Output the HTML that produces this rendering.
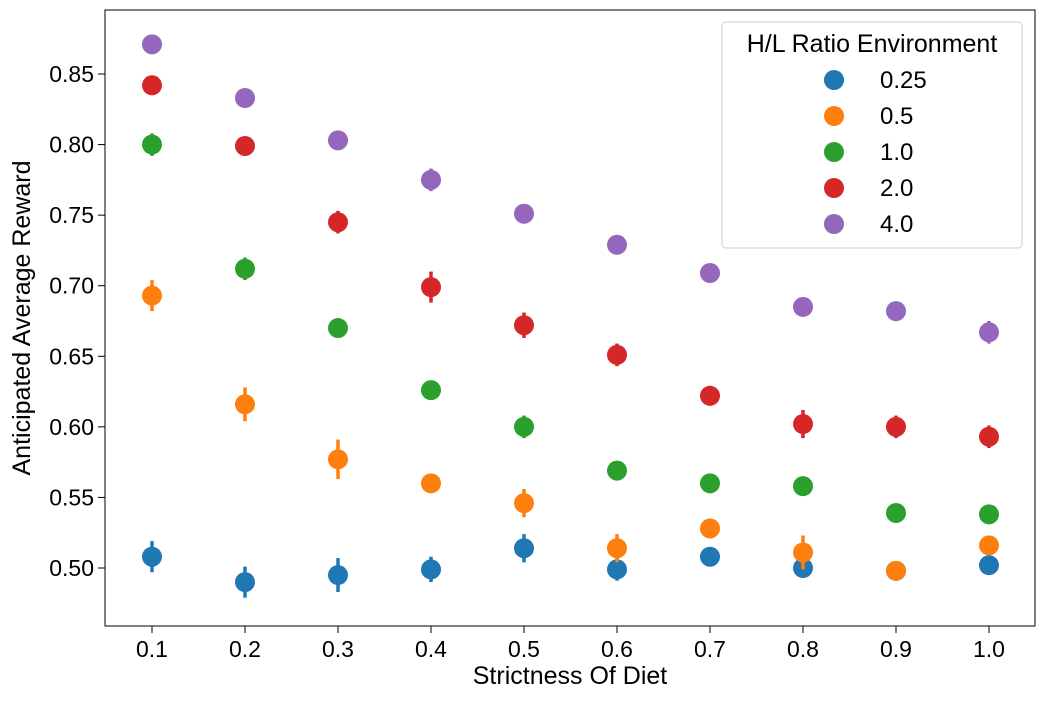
<!DOCTYPE html>
<html><head><meta charset="utf-8"><style>
body{margin:0;background:#fff}
text{font-family:"Liberation Sans",sans-serif;fill:#000}
</style></head><body>
<svg id="chart" width="1045" height="699" xmlns="http://www.w3.org/2000/svg">
<rect x="105" y="10" width="930" height="616" fill="#fff" stroke="#000" stroke-width="1"/>
<g id="marks"></g><g id="axes"></g>
<text x="570" y="684" text-anchor="middle" font-size="25">Strictness Of Diet</text>
<text transform="translate(30,318) rotate(-90)" text-anchor="middle" font-size="25">Anticipated Average Reward</text>
<g id="legend"></g>
</svg>
<script>
const categories=[0.1,0.2,0.3,0.4,0.5,0.6,0.7,0.8,0.9,1.0];
const seriesNames=["0.25","0.5","1.0","2.0","4.0"];
const colors=["#1f77b4","#ff7f0e","#2ca02c","#d62728","#9467bd"];
const s025=[0.508,0.490,0.495,0.499,0.514,0.499,0.508,0.500,0.498,0.502];
const e025=[0.011,0.011,0.012,0.009,0.010,0.008,0.005,0.003,0.002,0.003];
const s05=[0.693,0.616,0.577,0.560,0.546,0.514,0.528,0.511,0.498,0.516];
const e05=[0.011,0.012,0.014,0.004,0.010,0.010,0.007,0.012,0.003,0.003];
const s10=[0.800,0.712,0.670,0.626,0.600,0.569,0.560,0.558,0.539,0.538];
const e10=[0.008,0.008,0.004,0.005,0.008,0.006,0.005,0.004,0.003,0.004];
const s20=[0.842,0.799,0.745,0.699,0.672,0.651,0.622,0.602,0.600,0.593];
const e20=[0.003,0.004,0.008,0.011,0.009,0.008,0.007,0.010,0.008,0.008];
const s40=[0.871,0.833,0.803,0.775,0.751,0.729,0.709,0.685,0.682,0.667];
const e40=[0.002,0.005,0.003,0.008,0.006,0.005,0.006,0.003,0.004,0.008];
const yTicks=["0.50","0.55","0.60","0.65","0.70","0.75","0.80","0.85"];
const xTicks=["0.1","0.2","0.3","0.4","0.5","0.6","0.7","0.8","0.9","1.0"];
const series=[s025,s05,s10,s20,s40], errs=[e025,e05,e10,e20,e40];
const NS="http://www.w3.org/2000/svg";
function xs(v){return 152+(v-0.1)/0.9*837;}
function ys(v){return 568-(v-0.5)/0.35*494;}
function mk(t,a,p){const e=document.createElementNS(NS,t);for(const k in a)e.setAttribute(k,a[k]);(p||document.getElementById('marks')).appendChild(e);return e;}
const ax=document.getElementById('axes');
yTicks.forEach(t=>{const y=ys(+t);
 const l=mk('line',{x1:98,x2:105,y1:y,y2:y,stroke:'#000'},ax);
 
 
 const tx=mk('text',{x:94,y:y+8,'text-anchor':'end','font-size':23},ax);tx.textContent=t;
 
 });
xTicks.forEach(t=>{const x=xs(+t);
 const l=mk('line',{x1:x,x2:x,y1:626,y2:633,stroke:'#000'},ax);
 
 
 const tx=mk('text',{x:x,y:657,'text-anchor':'middle','font-size':23},ax);tx.textContent=t;
 
 });
series.forEach((s,i)=>{s.forEach((v,j)=>{const x=xs(categories[j]);
 const eb=mk('line',{x1:x,x2:x,y1:ys(v-errs[i][j]),y2:ys(v+errs[i][j]),stroke:colors[i],'stroke-width':3.5});
 
 
 const c=mk('circle',{cx:x,cy:ys(v),r:10,fill:colors[i]});
 
 });});
const lg=document.getElementById('legend');
mk('rect',{x:722,y:22,width:300,height:226,rx:4,fill:'#fff',stroke:'#ccc','fill-opacity':0.8},lg);
const tt=mk('text',{x:872,y:52,'text-anchor':'middle','font-size':25},lg);tt.textContent="H/L Ratio Environment";


seriesNames.forEach((n,i)=>{const y=80+i*36;
 const c=mk('circle',{cx:834,cy:y,r:10,fill:colors[i]},lg);
 
 
 const t=mk('text',{x:880,y:y+8,'font-size':24},lg);t.textContent=n;
 
 });
</script>
</body></html>
